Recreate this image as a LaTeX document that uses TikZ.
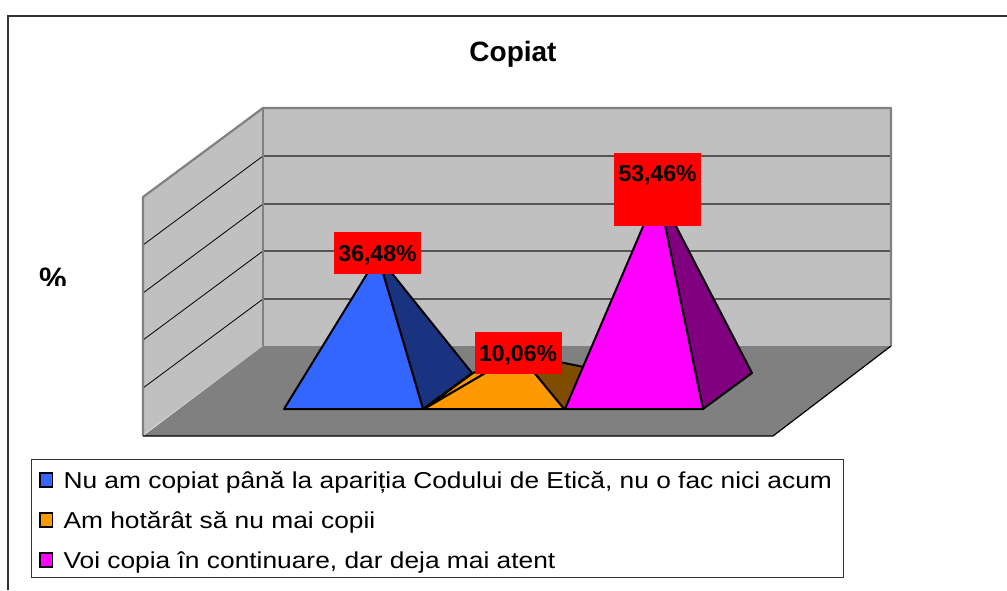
\documentclass[tikz,border=0pt]{standalone}
\usepackage{fontspec}
\setmainfont{Liberation Sans}
\newfontfamily\keyfont[FakeStretch=1.145]{Liberation Sans}
\definecolor{wallfill}{RGB}{192,192,192}
\definecolor{floorfill}{RGB}{128,128,128}
\definecolor{wallline}{RGB}{128,128,128}
\definecolor{gridline}{RGB}{85,85,85}
\definecolor{frameline}{RGB}{51,51,51}
\definecolor{bluefront}{RGB}{51,102,255}
\definecolor{blueside}{RGB}{26,51,128}
\definecolor{orangefront}{RGB}{255,153,0}
\definecolor{orangeside}{RGB}{128,77,0}
\definecolor{pinkfront}{RGB}{255,0,255}
\definecolor{pinkside}{RGB}{128,0,128}

\begin{document}
\begin{tikzpicture}
[x=1pt,y=-1pt,%
  wall/.style={draw=wallline,line width=2.2pt,line join=round},%
  face/.style={draw=black,line width=2pt,line join=round},%
  pct/.style={fill=red,inner sep=0pt,minimum width=87pt,minimum height=42pt,%
    font=\bfseries\fontsize{23}{27}\selectfont,text height=16.5pt,text depth=0pt},%
  key/.style={draw=black,line width=1.7pt,minimum width=12.5pt,minimum height=14pt,inner sep=0pt},%
  keytext/.style={anchor=base west,inner sep=0pt,font=\keyfont\fontsize{23}{27}\selectfont}]
\useasboundingbox (0,0) rectangle (1007,590);

% frame
\draw[frameline,line width=1.7pt] (8,590) -- (8,15.7) -- (1007,15.7);

% walls and floor
\fill[wallfill] (263,108) rectangle (891,346);
\fill[wallfill] (143,197) -- (263,108) -- (263,346) -- (143,435) -- cycle;
\fill[floorfill] (143,436) -- (263,346) -- (891,346) -- (773,436) -- cycle;
\draw[gridline,line width=1.3pt] (263,156) -- (891,156);
\draw[gridline,line width=1.3pt] (263,204) -- (891,204);
\draw[gridline,line width=1.3pt] (263,251) -- (891,251);
\draw[gridline,line width=1.3pt] (263,299) -- (891,299);
\draw[black,line width=0.8pt] (143,245) -- (263,156);
\draw[black,line width=0.8pt] (143,293) -- (263,204);
\draw[black,line width=0.8pt] (143,340) -- (263,251);
\draw[black,line width=0.8pt] (143,388) -- (263,299);
\draw[wall] (143,436) -- (143,197) -- (263,108) -- (891,108) -- (891,346);
\draw[wall] (263,108) -- (263,346);
\draw[black,line width=1.2pt] (143,436) -- (773,436) -- (891,346);

% pyramids
\filldraw[face,fill=orangefront] (424,409) -- (473,373) -- (518.5,353.6) -- cycle;
\filldraw[face,fill=orangeside] (564,409) -- (613,373) -- (518.5,353.6) -- cycle;
\filldraw[face,fill=orangefront] (424,409) -- (564,409) -- (518.5,353.6) -- cycle;
\filldraw[face,fill=blueside] (423,409) -- (472,373) -- (378,256) -- cycle;
\filldraw[face,fill=bluefront] (284,409) -- (423,409) -- (378,256) -- cycle;
\filldraw[face,fill=pinkside] (703,409) -- (752,373) -- (658,191.5) -- cycle;
\filldraw[face,fill=pinkfront] (565,409) -- (703,409) -- (658,191.5) -- cycle;

% value labels
\node[pct] (valA) at (377.5,253) {36,48\%};
\node[pct] (valB) at (518,353) {10,06\%};
\node[pct,minimum height=73pt,text depth=32.5pt] (valC) at (657.5,189.5) {53,46\%};

% titles
\node[anchor=base,inner sep=0pt,font=\bfseries\fontsize{28}{32}\selectfont] (title) at (513,61.7) {Copiat};
\begin{scope}
  \clip (0,0) rectangle (1007,285);
  \node[anchor=base west,inner sep=0pt,font=\bfseries\fontsize{31}{35}\selectfont] (axis) at (39,289) {\%};
\end{scope}

% legend
\node[draw=frameline,line width=1pt,minimum width=811.6pt,minimum height=117.7pt,inner sep=0pt] (legend) at (437.5,518.8) {};
\node[key,fill=bluefront] (keyA) at (46.3,480) {};
\node[key,fill=orangefront] (keyB) at (46.3,520) {};
\node[key,fill=pinkfront] (keyC) at (46.3,560) {};
\node[keytext] (textA) at (63.3,488.3) {Nu am copiat până la apariția Codului de Etică, nu o fac nici acum};
\node[keytext] (textB) at (63.3,528.3) {Am hotărât să nu mai copii};
\node[keytext] (textC) at (63.3,568.3) {Voi copia în continuare, dar deja mai atent};
\end{tikzpicture}
\end{document}
